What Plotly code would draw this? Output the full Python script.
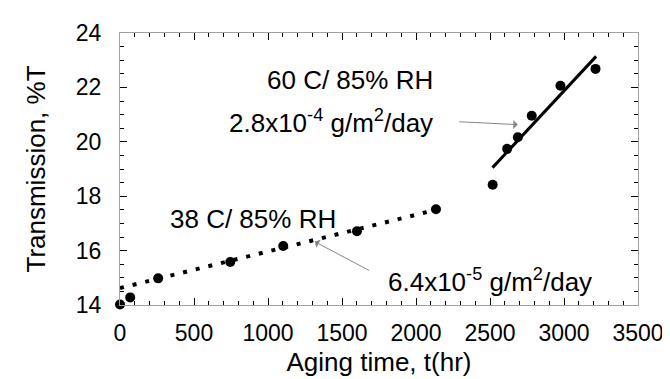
import plotly.graph_objects as go

# Data
t38 = [0, 69, 258, 745, 1103, 1601, 2135]
T38 = [14.02, 14.28, 14.98, 15.58, 16.17, 16.71, 17.52]
t60 = [2518, 2616, 2688, 2782, 2976, 3213]
T60 = [18.42, 19.74, 20.17, 20.96, 22.06, 22.68]
fit38_t = [0, 2135]
fit38_T = [14.62, 17.50]
fit60_t = [2517, 3217]
fit60_T = [19.05, 23.14]

x_ticks = [0, 500, 1000, 1500, 2000, 2500, 3000, 3500]
y_ticks = [14, 16, 18, 20, 22, 24]

FONT = "Liberation Sans, Arial, sans-serif"

fig = go.Figure()
fig.add_trace(go.Scatter(x=fit38_t, y=fit38_T, mode="lines",
                         line=dict(color="black", width=4, dash="4px,9px"),
                         showlegend=False, hoverinfo="skip"))
fig.add_trace(go.Scatter(x=fit60_t, y=fit60_T, mode="lines",
                         line=dict(color="black", width=3),
                         showlegend=False, hoverinfo="skip"))
fig.add_trace(go.Scatter(x=t38, y=T38, mode="markers", cliponaxis=False,
                         marker=dict(color="black", size=10),
                         showlegend=False))
fig.add_trace(go.Scatter(x=t60, y=T60, mode="markers", cliponaxis=False,
                         marker=dict(color="black", size=10),
                         showlegend=False))

ann_font = dict(family=FONT, size=26, color="black")
annotations = [
    dict(x=1553, y=22.27, text="60 C/ 85% RH", showarrow=False,
         xanchor="center", yanchor="middle", font=ann_font),
    dict(x=2126, y=20.74, text="2.8x10<sup>-4</sup> g/m<sup>2</sup>/day", showarrow=False,
         xanchor="right", yanchor="middle", font=ann_font),
    dict(x=896, y=17.17, text="38 C/ 85% RH", showarrow=False,
         xanchor="center", yanchor="middle", font=ann_font),
    dict(x=1795, y=14.91, text="6.4x10<sup>-5</sup> g/m<sup>2</sup>/day", showarrow=False,
         xanchor="left", yanchor="middle", font=ann_font),
    dict(x=2688, y=20.63, ax=2282, ay=20.74, axref="x", ayref="y", xref="x", yref="y",
         text="", showarrow=True, arrowhead=1, arrowsize=1.5, arrowwidth=1,
         arrowcolor="#888"),
    dict(x=1315, y=16.33, ax=1694, ay=15.24, axref="x", ayref="y", xref="x", yref="y",
         text="", showarrow=True, arrowhead=1, arrowsize=1.5, arrowwidth=1,
         arrowcolor="#888"),
]

axis_common = dict(
    showgrid=False, zeroline=False, showline=True, linecolor="#a0a0a0", linewidth=1,
    mirror="ticks", ticks="inside", ticklen=7, tickcolor="black", tickwidth=1,
    tickfont=dict(family=FONT, size=23, color="black"),
)

fig.update_layout(
    width=670, height=379,
    margin=dict(l=112, r=40, t=23, b=82),
    paper_bgcolor="white", plot_bgcolor="white",
    annotations=annotations,
    xaxis=dict(range=[0, 3500], tickvals=x_ticks, ticktext=[str(v) for v in x_ticks],
               minor=dict(dtick=100, ticks="inside", ticklen=4, tickcolor="black"),
               ticklabelstandoff=7,
               title=dict(text="Aging time, t(hr)", font=dict(family=FONT, size=26, color="black"),
                          standoff=8),
               **axis_common),
    yaxis=dict(range=[14, 24], tickvals=y_ticks, ticktext=[str(v) for v in y_ticks],
               minor=dict(dtick=0.5, ticks="inside", ticklen=4, tickcolor="black"),
               ticklabelstandoff=13,
               title=dict(text="Transmission, %T", font=dict(family=FONT, size=26, color="black"),
                          standoff=22),
               **axis_common),
)

fig.write_html("out.html")
